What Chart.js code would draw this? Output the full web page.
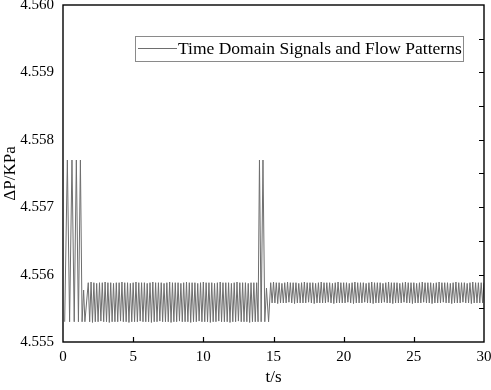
<!DOCTYPE html>
<html>
<head>
<meta charset="utf-8">
<script src="https://cdn.jsdelivr.net/npm/chart.js@4.4.0/dist/chart.umd.min.js"></script>
<style>
html,body{margin:0;padding:0;background:#fff;}
#wrap{width:491px;height:390px;}
</style>
</head>
<body>
<div id="wrap"><canvas id="signal" width="491" height="390"></canvas></div>
<script>
// pressure drop vs time
var seriesLabel = "Time Domain Signals and Flow Patterns";

// start-up spikes
var tStart = [0.12,0.31,0.47,0.64,0.80,0.95,1.10,1.24,1.36,1.47,1.56];
var pStart = [4.5553,4.5577,4.5553,4.5577,4.5553,4.5577,4.5553,4.5577,4.5553,4.55577,4.5553];

// first steady oscillation (about 5 Hz)
var tFirst = [1.8,1.9,2.0,2.1,2.2,2.3,2.4,2.5,2.6,2.7,2.8,2.9,3.0,3.1,3.2,3.3,3.4,3.5,3.6,3.7,
  3.8,3.9,4.0,4.1,4.2,4.3,4.4,4.5,4.6,4.7,4.8,4.9,5.0,5.1,5.2,5.3,5.4,5.5,5.6,5.7,
  5.8,5.9,6.0,6.1,6.2,6.3,6.4,6.5,6.6,6.7,6.8,6.9,7.0,7.1,7.2,7.3,7.4,7.5,7.6,7.7,
  7.8,7.9,8.0,8.1,8.2,8.3,8.4,8.5,8.6,8.7,8.8,8.9,9.0,9.1,9.2,9.3,9.4,9.5,9.6,9.7,
  9.8,9.9,10.0,10.1,10.2,10.3,10.4,10.5,10.6,10.7,10.8,10.9,11.0,11.1,11.2,11.3,11.4,11.5,11.6,11.7,
  11.8,11.9,12.0,12.1,12.2,12.3,12.4,12.5,12.6,12.7,12.8,12.9,13.0,13.1,13.2,13.3,13.4,13.5,13.6,13.7,
  13.8,13.9];
var pFirst = [4.55588,4.55530,4.55589,4.55529,4.55588,4.55530,4.55587,4.55530,4.55588,4.55531,
  4.55588,4.55530,4.55589,4.55530,4.55588,4.55529,4.55588,4.55530,4.55587,4.55530,
  4.55588,4.55530,4.55588,4.55531,4.55589,4.55530,4.55588,4.55530,4.55588,4.55529,
  4.55587,4.55530,4.55588,4.55530,4.55589,4.55530,4.55588,4.55531,4.55588,4.55530,
  4.55588,4.55530,4.55587,4.55530,4.55588,4.55529,4.55589,4.55530,4.55588,4.55530,
  4.55588,4.55531,4.55588,4.55530,4.55587,4.55530,4.55588,4.55530,4.55589,4.55529,
  4.55588,4.55530,4.55588,4.55530,4.55588,4.55531,4.55587,4.55530,4.55588,4.55530,
  4.55589,4.55530,4.55588,4.55529,4.55588,4.55530,4.55588,4.55530,4.55587,4.55531,
  4.55588,4.55530,4.55589,4.55530,4.55588,4.55530,4.55588,4.55529,4.55588,4.55530,
  4.55587,4.55530,4.55588,4.55531,4.55589,4.55530,4.55588,4.55530,4.55588,4.55530,
  4.55588,4.55529,4.55587,4.55530,4.55588,4.55530,4.55589,4.55531,4.55588,4.55530,
  4.55588,4.55530,4.55588,4.55530,4.55587,4.55529,4.55588,4.55530,4.55588,4.55530,
  4.55588,4.55530];

// second burst around t = 14 s
var tBurst = [14.0,14.12,14.25,14.38,14.5,14.65];
var pBurst = [4.5577,4.5553,4.5577,4.5553,4.5558,4.5553];

// second steady oscillation, higher floor
var tSecond = [14.8,14.9,15.0,15.1,15.2,15.3,15.4,15.5,15.6,15.7,15.8,15.9,16.0,16.1,16.2,16.3,16.4,16.5,16.6,16.7,
  16.8,16.9,17.0,17.1,17.2,17.3,17.4,17.5,17.6,17.7,17.8,17.9,18.0,18.1,18.2,18.3,18.4,18.5,18.6,18.7,
  18.8,18.9,19.0,19.1,19.2,19.3,19.4,19.5,19.6,19.7,19.8,19.9,20.0,20.1,20.2,20.3,20.4,20.5,20.6,20.7,
  20.8,20.9,21.0,21.1,21.2,21.3,21.4,21.5,21.6,21.7,21.8,21.9,22.0,22.1,22.2,22.3,22.4,22.5,22.6,22.7,
  22.8,22.9,23.0,23.1,23.2,23.3,23.4,23.5,23.6,23.7,23.8,23.9,24.0,24.1,24.2,24.3,24.4,24.5,24.6,24.7,
  24.8,24.9,25.0,25.1,25.2,25.3,25.4,25.5,25.6,25.7,25.8,25.9,26.0,26.1,26.2,26.3,26.4,26.5,26.6,26.7,
  26.8,26.9,27.0,27.1,27.2,27.3,27.4,27.5,27.6,27.7,27.8,27.9,28.0,28.1,28.2,28.3,28.4,28.5,28.6,28.7,
  28.8,28.9,29.0,29.1,29.2,29.3,29.4,29.5,29.6,29.7,29.8,29.9,30.0];
var pSecond = [4.55588,4.55558,4.55589,4.55558,4.55588,4.55557,4.55588,4.55558,4.55587,4.55558,
  4.55588,4.55558,4.55589,4.55559,4.55588,4.55558,4.55588,4.55557,4.55588,4.55558,
  4.55587,4.55558,4.55588,4.55558,4.55589,4.55558,4.55588,4.55559,4.55588,4.55558,
  4.55588,4.55557,4.55587,4.55558,4.55588,4.55558,4.55589,4.55558,4.55588,4.55558,
  4.55588,4.55559,4.55588,4.55558,4.55587,4.55557,4.55588,4.55558,4.55589,4.55558,
  4.55588,4.55558,4.55588,4.55558,4.55588,4.55559,4.55587,4.55558,4.55588,4.55557,
  4.55589,4.55558,4.55588,4.55558,4.55588,4.55558,4.55588,4.55559,4.55587,4.55558,
  4.55588,4.55558,4.55589,4.55557,4.55588,4.55558,4.55588,4.55558,4.55588,4.55558,
  4.55587,4.55559,4.55588,4.55558,4.55589,4.55558,4.55588,4.55557,4.55588,4.55558,
  4.55588,4.55558,4.55587,4.55558,4.55588,4.55559,4.55589,4.55558,4.55588,4.55558,
  4.55588,4.55557,4.55588,4.55558,4.55587,4.55558,4.55588,4.55558,4.55589,4.55559,
  4.55588,4.55558,4.55588,4.55558,4.55588,4.55557,4.55587,4.55558,4.55588,4.55558,
  4.55589,4.55558,4.55588,4.55559,4.55588,4.55558,4.55588,4.55558,4.55587,4.55557,
  4.55588,4.55558,4.55589,4.55558,4.55588,4.55558,4.55588,4.55559,4.55588,4.55558,
  4.55587,4.55558,4.55588,4.55557,4.55589,4.55558,4.55588,4.55558,4.55588,4.55558,
  4.55588,4.55558,4.55588];

var xTicks = [5,10,15,20,25];

var times = tStart.concat(tFirst, tBurst, tSecond);
var dp = pStart.concat(pFirst, pBurst, pSecond);
var points = [];
for (var i = 0; i < times.length; i++) {
  points.push({x: times[i], y: dp[i]});
}

var serif = "'Liberation Serif', 'Times New Roman', serif";

// box round the plot plus inward ticks on bottom and right
var framePlugin = {
  id: 'frame',
  afterDatasetsDraw: function(chart) {
    var ctx = chart.ctx, a = chart.chartArea;
    var xs = chart.scales.x, ys = chart.scales.y;
    ctx.save();
    ctx.strokeStyle = '#000';
    ctx.lineWidth = 1.4;
    ctx.strokeRect(a.left, a.top, a.right - a.left, a.bottom - a.top);
    ctx.lineWidth = 1.2;
    ctx.beginPath();
    xTicks.forEach(function(v) {
      var px = Math.round(xs.getPixelForValue(v)) + 0.5;
      ctx.moveTo(px, a.bottom);
      ctx.lineTo(px, a.bottom - 5);
    });
    for (var k = 1; k < 10; k++) {
      var py = Math.round(ys.getPixelForValue(4.555 + k * 0.0005)) + 0.5;
      ctx.moveTo(a.right, py);
      ctx.lineTo(a.right - 5, py);
    }
    ctx.stroke();
    ctx.restore();
  }
};

// boxed legend inside the plot, top right
var legendPlugin = {
  id: 'boxLegend',
  afterDraw: function(chart) {
    var ctx = chart.ctx;
    ctx.save();
    ctx.strokeStyle = '#8a8a8a';
    ctx.lineWidth = 1;
    ctx.strokeRect(135.5, 36.5, 328, 25);
    ctx.strokeStyle = '#6e6e6e';
    ctx.beginPath();
    ctx.moveTo(138, 48.5);
    ctx.lineTo(177, 48.5);
    ctx.stroke();
    ctx.fillStyle = '#000';
    ctx.font = "17.5px " + serif;
    ctx.textBaseline = 'middle';
    ctx.fillText(seriesLabel, 178, 49);
    ctx.restore();
  }
};

window.onload = function() {
  var ctx = document.getElementById('signal').getContext('2d');
  var chart = new Chart(ctx, {
    type: 'line',
    data: {
      datasets: [{
        label: seriesLabel,
        data: points,
        borderColor: '#6e6e6e',
        borderWidth: 1,
        pointRadius: 0,
        tension: 0,
        fill: false
      }]
    },
    options: {
      responsive: false,
      animation: false,
      layout: {padding: {top: 5, right: 7, left: 0, bottom: 0}},
      plugins: {
        legend: {display: false},
        tooltip: {enabled: false}
      },
      scales: {
        x: {
          type: 'linear',
          min: 0,
          max: 30,
          afterFit: function(s) { s.height = 48; s.paddingLeft = 0; s.paddingRight = 0; },
          grid: {display: false, drawTicks: false},
          border: {display: false},
          ticks: {
            stepSize: 5,
            padding: 6,
            color: '#000',
            font: {family: serif, size: 15},
            maxRotation: 0
          },
          title: {
            display: true,
            text: 't/s',
            color: '#000',
            font: {family: serif, size: 17},
            padding: {top: 0, bottom: 2}
          }
        },
        y: {
          min: 4.555,
          max: 4.560,
          afterFit: function(s) { s.width = 63; s.paddingTop = 0; s.paddingBottom = 0; },
          grid: {display: false, drawTicks: false},
          border: {display: false},
          ticks: {
            stepSize: 0.001,
            padding: 9,
            color: '#000',
            font: {family: serif, size: 15},
            callback: function(v) { return v.toFixed(3); }
          },
          title: {
            display: true,
            text: 'ΔP/KPa',
            color: '#000',
            font: {family: serif, size: 17},
            padding: {top: 0, bottom: 0}
          }
        }
      }
    },
    plugins: [framePlugin, legendPlugin]
  });
};
</script>
</body>
</html>
